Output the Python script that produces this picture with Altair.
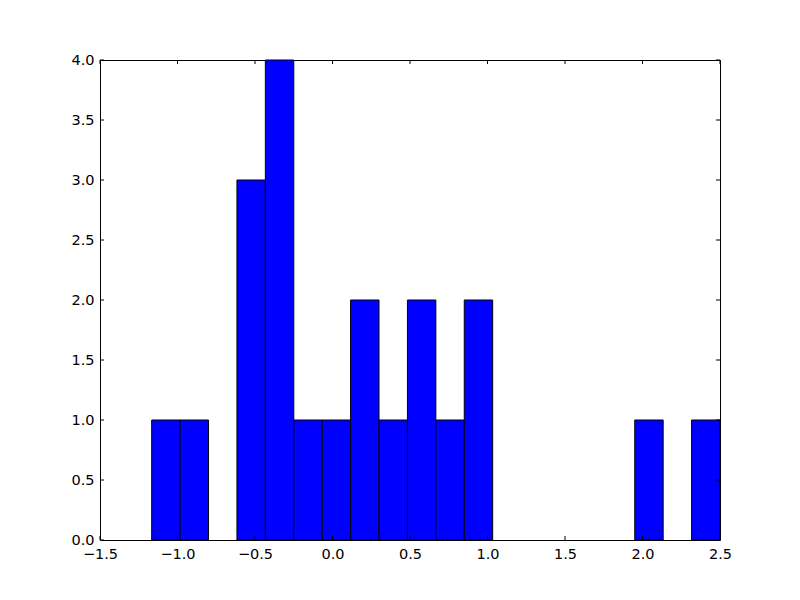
import altair as alt
import pandas as pd

# histogram: 20 equal bins
bin_start = -1.1665
bin_end = 2.5
counts = [1, 1, 0, 3, 4, 1, 1, 2, 1, 2, 1, 2, 0, 0, 0, 0, 0, 1, 0, 1]
x_ticks = [-1.5, -1.0, -0.5, 0.0, 0.5, 1.0, 1.5, 2.0, 2.5]
y_ticks = [0.0, 0.5, 1.0, 1.5, 2.0, 2.5, 3.0, 3.5, 4.0]

n = len(counts)
w = (bin_end - bin_start) / n
df = pd.DataFrame({
    "lo": [bin_start + i * w for i in range(n)],
    "hi": [bin_start + (i + 1) * w for i in range(n)],
    "count": counts,
})
df = df[df["count"] > 0]

W, H = 620, 480
FONT = "DejaVu Sans"
FS = 14.5
xs = alt.Scale(domain=[-1.5, 2.5], nice=False, zero=False)
ys = alt.Scale(domain=[0, 4.0], nice=False, zero=False)

bars = alt.Chart(df).mark_bar(
    color="#0000ff", stroke="black", strokeWidth=1, opacity=1
).encode(
    x=alt.X("lo:Q", scale=xs, axis=alt.Axis(
        values=x_ticks, format=".1f", grid=False, tickSize=0, labelPadding=7,
        labelFontSize=FS, labelFont=FONT, labelColor="black", title=None,
        domain=False, labelFlush=False)),
    x2="hi:Q",
    y=alt.Y("count:Q", scale=ys, axis=alt.Axis(
        values=y_ticks, format=".1f", grid=False, tickSize=0, labelPadding=6,
        labelFontSize=FS, labelFont=FONT, labelColor="black", title=None,
        domain=False, labelFlush=False)),
    y2=alt.datum(0),
)

xt = pd.DataFrame({"v": x_ticks})
yt = pd.DataFrame({"v": y_ticks})

xticks_bottom = alt.Chart(xt).mark_rule(color="black", strokeWidth=1).encode(
    x=alt.X("v:Q", scale=xs), y=alt.value(H), y2=alt.value(H - 4))
xticks_top = alt.Chart(xt).mark_rule(color="black", strokeWidth=1).encode(
    x=alt.X("v:Q", scale=xs), y=alt.value(0), y2=alt.value(4))
yticks_left = alt.Chart(yt).mark_rule(color="black", strokeWidth=1).encode(
    y=alt.Y("v:Q", scale=ys), x=alt.value(0), x2=alt.value(4))
yticks_right = alt.Chart(yt).mark_rule(color="black", strokeWidth=1).encode(
    y=alt.Y("v:Q", scale=ys), x=alt.value(W), x2=alt.value(W - 4))

chart = alt.layer(
    bars, xticks_bottom, xticks_top, yticks_left, yticks_right
).properties(
    width=W, height=H,
    autosize=alt.AutoSizeParams(type="none"),
    padding={"left": 92, "top": 52, "right": 72, "bottom": 52},
    background="white",
).configure_view(
    stroke="black", strokeWidth=1
)

chart.save("out.html", embed_options={"renderer": "svg", "actions": False})
